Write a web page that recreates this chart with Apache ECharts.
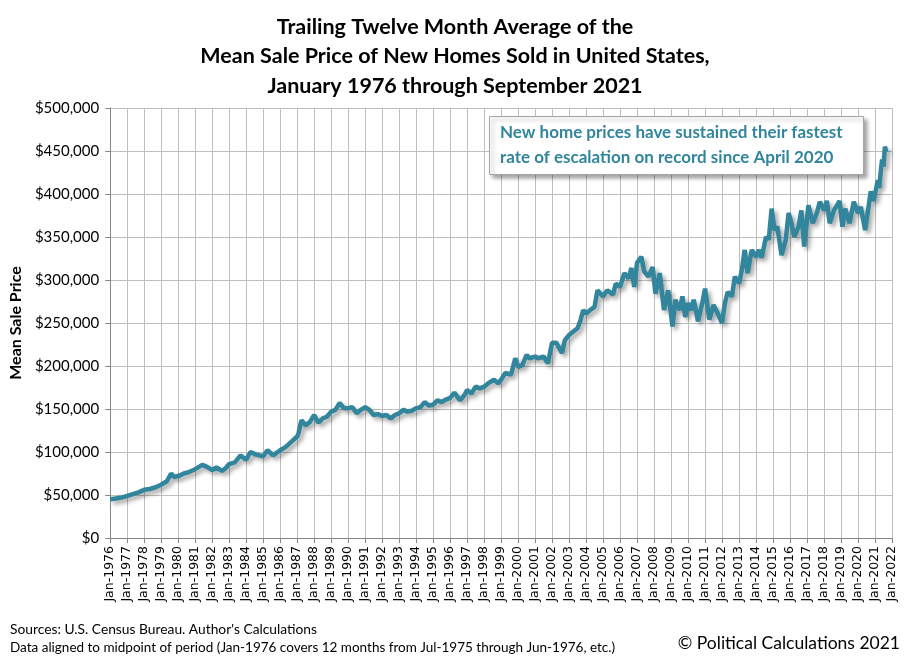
<!DOCTYPE html>
<html><head><meta charset="utf-8">
<script src="https://cdn.jsdelivr.net/npm/echarts@6/dist/echarts.min.js"></script>
<style>html,body{margin:0;padding:0;background:#fff}#c{width:910px;height:661px}</style>
</head><body><div id="c"></div>
<script>
// Trailing twelve month average of mean sale price (thousands of US$)
const months = [
"1976-01","1976-05","1976-09","1977-01","1977-05","1977-09","1978-01","1978-05","1978-09",
"1979-01","1979-05","1979-08","1979-10","1980-01","1980-05","1980-09","1981-01","1981-06","1981-09",
"1982-01","1982-04","1982-08","1982-11","1983-01","1983-05","1983-09","1984-01","1984-04","1984-08",
"1985-01","1985-04","1985-08","1986-01","1986-05","1986-09","1987-01","1987-02","1987-04","1987-07","1987-10",
"1988-01","1988-04","1988-07","1988-10","1989-01","1989-04","1989-07","1989-10","1990-01","1990-04","1990-07","1990-10",
"1991-01","1991-04","1991-07","1991-10","1992-01","1992-04","1992-07","1992-10","1993-01","1993-04","1993-07","1993-10",
"1994-01","1994-04","1994-07","1994-10","1995-01","1995-04","1995-07","1995-10","1996-01","1996-04","1996-08","1996-11",
"1997-01","1997-04","1997-07","1997-10","1998-01","1998-04","1998-08","1998-11","1999-01","1999-04","1999-08","1999-11",
"2000-01","2000-04","2000-07","2000-09","2001-01","2001-03","2001-07","2001-10","2002-01","2002-04","2002-08","2002-10",
"2003-01","2003-04","2003-07","2003-09","2003-11","2004-01","2004-04","2004-07","2004-09","2005-01","2005-04","2005-08","2005-10",
"2006-01","2006-04","2006-07","2006-09","2006-11","2007-01","2007-04","2007-06","2007-09","2007-12",
"2008-02","2008-05","2008-08","2008-11","2009-02","2009-04","2009-07","2009-09","2009-11",
"2010-01","2010-03","2010-05","2010-08","2010-11","2011-01","2011-04","2011-07","2011-10",
"2012-01","2012-03","2012-05","2012-08","2012-10","2013-01","2013-03","2013-05","2013-07","2013-10",
"2014-01","2014-03","2014-05","2014-08","2014-10","2014-12","2015-02","2015-04","2015-07","2015-10","2015-12",
"2016-02","2016-04","2016-07","2016-09","2016-11","2017-02","2017-05","2017-08","2017-10",
"2018-01","2018-03","2018-05","2018-08","2018-12","2019-02","2019-04","2019-07","2019-10",
"2020-01","2020-03","2020-06","2020-08","2020-10","2020-12","2021-03","2021-04","2021-05","2021-06","2021-07","2021-08","2021-09"
];
const prices = [
45,46,47,49,51,53,56,57,59,
62,66,75,71,72,75,77,80,85,83,
79,82,78,82,86,88,96,91,100,97,
95,102,96,102,106,112,118,122,137,131,135,
143,134,139,141,147,149,157,151,151,152,145,149,
152,149,143,144,142,143,139,143,145,149,147,148,
151,152,158,154,155,160,158,161,163,169,160,166,
172,168,176,174,176,180,184,180,184,192,190,209,
199,201,213,209,211,209,211,203,227,227,215,230,
236,240,244,253,265,261,265,269,288,281,288,283,296,
292,308,302,314,292,320,327,310,304,315,
284,308,265,288,246,277,265,281,257,
273,265,277,252,273,290,254,271,261,
250,273,286,281,304,296,312,335,308,335,
327,335,326,350,347,383,358,362,329,347,378,
366,350,362,381,339,387,366,378,391,
381,392,366,381,392,362,383,366,391,
378,385,358,380,403,392,416,407,425,440,432,455,449
];
const yTicks = [0,50000,100000,150000,200000,250000,300000,350000,400000,450000,500000];
const titleLines = ["Trailing Twelve Month Average of the","Mean Sale Price of New Homes Sold in United States,","January 1976 through September 2021"];
const noteLines = ["New home prices have sustained their fastest","rate of escalation on record since April 2020"];

const seriesData = months.map((m,i)=>{const [y,mo]=m.split('-').map(Number);return [y+(mo-1)/12, prices[i]*1000];});
const teal = '#31859C';
const F = 'Lato, "Open Sans", sans-serif';
const chart = echarts.init(document.getElementById('c'));
chart.setOption({
  animation:false,
  title:{text:titleLines.join('\n'),left:'center',top:7,textStyle:{fontFamily:F,fontWeight:'bold',fontSize:21.5,lineHeight:29.5,color:'#000'}},
  grid:{left:106,right:18,top:108,bottom:123},
  xAxis:{type:'value',min:1976,max:2022,interval:1,
    axisLine:{lineStyle:{color:'#868686'}},
    axisTick:{lineStyle:{color:'#868686'},length:5},
    splitLine:{show:true,lineStyle:{color:'#BFBFBF'}},
    axisLabel:{rotate:90,fontFamily:'DejaVu Sans, sans-serif',fontSize:12.5,color:'#000',margin:8,formatter:v=>'Jan-'+v}},
  yAxis:{type:'value',min:yTicks[0],max:yTicks[yTicks.length-1],interval:50000,
    name:'Mean Sale Price',nameLocation:'middle',nameGap:86,
    nameTextStyle:{fontFamily:F,fontWeight:'bold',fontSize:16,color:'#000'},
    axisLine:{show:true,lineStyle:{color:'#868686'}},
    axisTick:{show:true,lineStyle:{color:'#868686'},length:5},
    splitLine:{lineStyle:{color:'#BFBFBF'}},
    axisLabel:{fontFamily:F,fontSize:15,color:'#000',margin:11,formatter:v=>'$'+v.toLocaleString('en-US')}},
  series:[{type:'line',data:seriesData,showSymbol:false,symbol:'none',
    lineStyle:{color:teal,width:4.5,shadowColor:'rgba(0,0,0,0.35)',shadowBlur:4,shadowOffsetX:3,shadowOffsetY:3}}],
  graphic:[
    {type:'rect',left:489,top:116,shape:{width:374,height:58},
     style:{fill:'#fff',stroke:'#A6A6A6',lineWidth:1,shadowColor:'rgba(0,0,0,0.35)',shadowBlur:4,shadowOffsetX:3,shadowOffsetY:3},z:10},
    {type:'text',left:500,top:120,z:11,
     style:{text:noteLines.join('\n'),fill:teal,font:'bold 17px '+F,lineHeight:25}},
    {type:'text',left:10,top:623,style:{text:"Sources: U.S. Census Bureau. Author's Calculations",fill:'#000',font:'13.8px '+F}},
    {type:'text',left:10,top:641,style:{text:"Data aligned to midpoint of period (Jan-1976 covers 12 months from Jul-1975 through Jun-1976, etc.)",fill:'#000',font:'13.5px '+F}},
    {type:'text',right:10,top:634,style:{text:"© Political Calculations 2021",fill:'#000',font:'17.5px '+F}}
  ]
});
</script></body></html>
